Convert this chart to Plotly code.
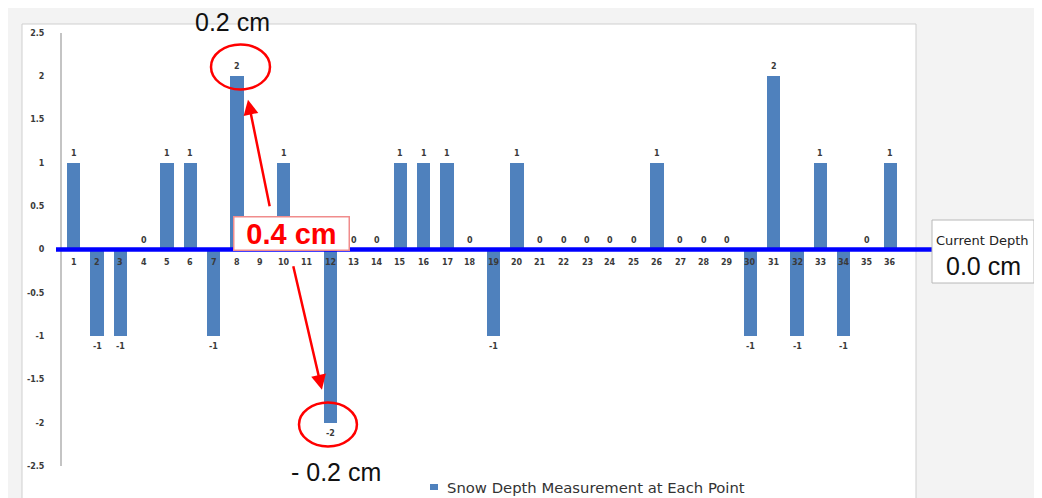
import plotly.graph_objects as go

points = list(range(1, 37))
depth = [1, -1, -1, 0, 1, 1, -1, 2, 0, 1, 0, -2, 0, 0, 1, 1, 1, 0, -1, 1,
         0, 0, 0, 0, 0, 1, 0, 0, 0, -1, 2, -1, 1, -1, 0, 1]
# value labels of these points are covered by the "0.4 cm" callout in the original
hidden_value_labels = [9, 11]
y_ticks = [2.5, 2, 1.5, 1, 0.5, 0, -0.5, -1, -1.5, -2, -2.5]
y_tick_text = ["2.5", "2", "1.5", "1", "0.5", "0", "-0.5", "-1", "-1.5", "-2", "-2.5"]
series_name = "Snow Depth Measurement at Each Point"

BAR = "#4f81bd"
RED = "#ff0000"
LABEL_FONT = dict(family="DejaVu Sans", size=8, color="#3a3a3a")


def px_x(px):
    return (px - 62) / 840


def px_y(py):
    return (466 - py) / 433


fig = go.Figure()
fig.add_trace(go.Bar(x=points, y=depth, width=0.56, marker=dict(color=BAR, line=dict(width=0)),
                     name=series_name, showlegend=False, hoverinfo="x+y"))

ann = []
for p, v in zip(points, depth):
    if p in hidden_value_labels:
        continue
    if v >= 0:
        ann.append(dict(x=p, y=v, text=f"<b>{v}</b>", showarrow=False, yanchor="bottom",
                        yshift=3, font=LABEL_FONT))
    else:
        ann.append(dict(x=p, y=v, text=f"<b>{v}</b>", showarrow=False, yanchor="top",
                        yshift=-4, font=LABEL_FONT))
for p in points:
    ann.append(dict(x=p, y=0, text=f"<b>{p}</b>", showarrow=False, yanchor="middle",
                    yshift=-13, font=LABEL_FONT))

ann.append(dict(x=8.47, y=1.73, ax=22, ay=108, axref="pixel", ayref="pixel", text="",
                showarrow=True, arrowhead=2, arrowsize=1.2, arrowwidth=2.5, arrowcolor=RED))
ann.append(dict(x=11.64, y=-1.62, ax=-29, ay=-125, axref="pixel", ayref="pixel", text="",
                showarrow=True, arrowhead=2, arrowsize=1.2, arrowwidth=2.5, arrowcolor=RED))
ann.append(dict(xref="paper", yref="paper", x=px_x(232), y=px_y(22), xanchor="center",
                yanchor="middle", text="0.2 cm", showarrow=False,
                font=dict(family="Liberation Sans", size=25, color="#111111")))
ann.append(dict(xref="paper", yref="paper", x=px_x(336), y=px_y(472), xanchor="center",
                yanchor="middle", text="- 0.2 cm", showarrow=False,
                font=dict(family="Liberation Sans", size=25, color="#111111")))
ann.append(dict(xref="paper", yref="paper", x=px_x(291), y=px_y(233), xanchor="center",
                yanchor="middle", text="<b>0.4 cm</b>", showarrow=False, width=112, height=30,
                bgcolor="white", bordercolor="#f08c8c", borderwidth=1.5, borderpad=1,
                font=dict(family="Liberation Sans", size=29, color=RED)))
ann.append(dict(xref="paper", yref="paper", x=px_x(982), y=px_y(240), xanchor="center",
                yanchor="middle", text="Current Depth", showarrow=False,
                font=dict(family="DejaVu Sans", size=13, color="#222222")))
ann.append(dict(xref="paper", yref="paper", x=px_x(983), y=px_y(266), xanchor="center",
                yanchor="middle", text="0.0 cm", showarrow=False,
                font=dict(family="Liberation Sans", size=25, color="#111111")))
ann.append(dict(xref="paper", yref="paper", x=px_x(445), y=px_y(487), xanchor="left",
                yanchor="middle", text=series_name, showarrow=False,
                font=dict(family="DejaVu Sans", size=14.8, color="#333333")))

shapes = [
    dict(type="rect", xref="paper", yref="paper", x0=px_x(22), x1=px_x(916),
         y0=px_y(520), y1=px_y(24), fillcolor="white",
         line=dict(color="#cfcfcf", width=1), layer="below"),
    dict(type="line", xref="paper", yref="y", x0=px_x(56), x1=px_x(932),
         y0=0, y1=0, line=dict(color="#0000ff", width=4.5), layer="above"),
    dict(type="rect", xref="paper", yref="paper", x0=px_x(932), x1=px_x(1034),
         y0=px_y(283), y1=px_y(220), fillcolor="white",
         line=dict(color="#b8b8b8", width=1), layer="above"),
    dict(type="circle", xref="x", yref="y", x0=6.886, x1=9.414, y0=1.848, y1=2.367,
         line=dict(color=RED, width=2.5)),
    dict(type="circle", xref="x", yref="y", x0=10.657, x1=13.14, y0=-2.275, y1=-1.767,
         line=dict(color=RED, width=2.5)),
    dict(type="rect", xref="paper", yref="paper", x0=px_x(430), x1=px_x(438),
         y0=px_y(490), y1=px_y(484), fillcolor=BAR, line=dict(width=0), layer="above"),
]

fig.update_layout(
    width=1034, height=490,
    margin=dict(l=54, r=140, t=25, b=32),
    paper_bgcolor="#f3f3f3",
    plot_bgcolor="white",
    bargap=0,
    showlegend=False,
    xaxis=dict(range=[0.5, 36.5], showticklabels=False, showgrid=False, zeroline=False,
               showline=False, ticks=""),
    yaxis=dict(range=[-2.5, 2.5], tickvals=y_ticks, ticktext=[f"<b>{t}</b>" for t in y_tick_text],
               showgrid=False, zeroline=False, showline=True, linecolor="#c4c4c4", linewidth=2,
               ticks="", ticklabelstandoff=14,
               tickfont=dict(family="DejaVu Sans", size=8, color="#3a3a3a")),
    annotations=ann,
    shapes=shapes,
)

fig.write_html("out.html")
